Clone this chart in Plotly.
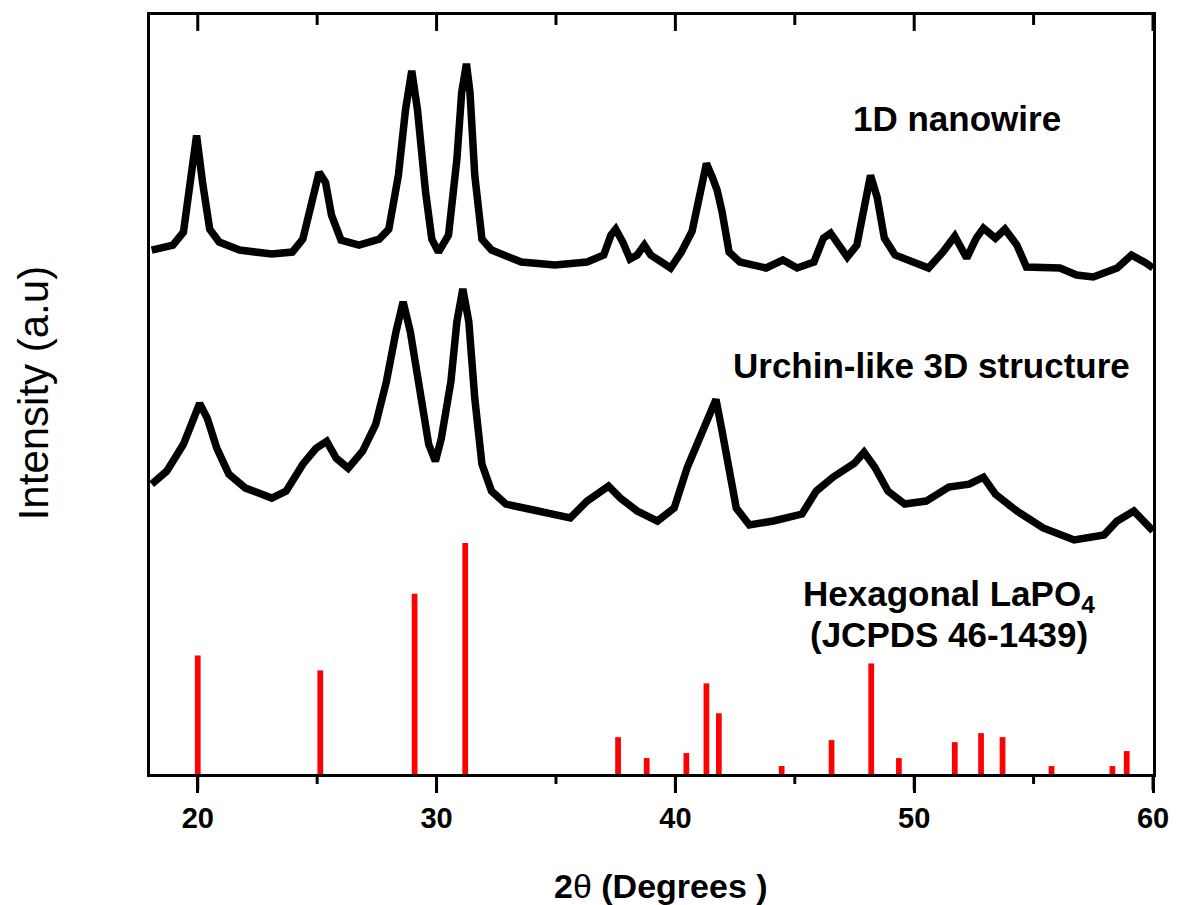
import plotly.graph_objects as go

# ---- data (2theta in degrees, intensity in arbitrary units) ----
nanowire_x = [18.07, 18.96, 19.4, 19.67, 19.95, 20.2, 20.5, 20.9, 21.75, 23.1, 23.96, 24.4, 24.8, 25.08,
              25.35, 25.6, 26.0, 26.75, 27.6, 28.0, 28.4, 28.7, 28.96, 29.2, 29.54, 29.8, 30.08, 30.5,
              30.85, 31.05, 31.25, 31.4, 31.6, 31.9, 32.3, 33.55, 34.96, 36.3, 37.0, 37.3, 37.5, 37.8,
              38.1, 38.4, 38.7, 38.97, 39.8, 40.25, 40.7, 41.05, 41.3, 41.55, 41.75, 41.95, 42.25, 42.7,
              43.8, 44.5, 45.1, 45.8, 46.2, 46.5, 46.9, 47.2, 47.6, 47.9, 48.17, 48.45, 48.75, 49.2,
              50.0, 50.6, 51.2, 51.7, 52.2, 52.6, 52.9, 53.4, 53.8, 54.3, 54.7, 56.1, 56.8, 57.5,
              58.5, 59.1, 59.7, 60.0]
nanowire_y = [526, 531, 544, 594, 641, 594, 547, 534, 526, 522, 524, 537, 577, 604,
              594, 561, 536, 531, 537, 547, 601, 667, 706, 667, 584, 537, 524, 541,
              617, 684, 713, 684, 601, 537, 526, 514, 511, 514, 521, 541, 547, 534,
              517, 521, 531, 521, 508, 524, 545, 589, 613, 599, 586, 565, 524, 514,
              508, 516, 508, 514, 538, 543, 531, 519, 531, 572, 601, 579, 538, 521,
              514, 508, 524, 540, 518, 538, 548, 538, 547, 531, 509, 508, 501, 499,
              508, 521, 513, 508]

urchin_x = [18.07, 18.7, 19.4, 19.8, 20.08, 20.4, 20.8, 21.3, 22.0, 23.1, 23.7, 24.4, 24.95, 25.4,
            25.8, 26.3, 26.9, 27.45, 27.9, 28.3, 28.6, 28.9, 29.3, 29.67, 29.95, 30.2, 30.6, 30.85,
            31.1, 31.35, 31.6, 31.9, 32.3, 32.9, 34.25, 35.6, 36.3, 37.2, 37.7, 38.4, 39.25, 39.95,
            40.5, 40.95, 41.4, 41.7, 41.95, 42.25, 42.55, 43.1, 44.1, 45.3, 45.9, 46.6, 47.5, 47.9,
            48.35, 48.9, 49.6, 50.5, 51.45, 52.3, 52.9, 53.4, 54.3, 55.4, 56.7, 57.95, 58.5, 59.2,
            59.7, 60.0]
urchin_y = [291, 304, 331, 357, 372, 357, 327, 301, 287, 277, 284, 311, 327, 334,
            317, 307, 324, 351, 394, 444, 474, 444, 384, 331, 314, 337, 394, 454,
            487, 454, 377, 311, 284, 271, 264, 257, 274, 289, 277, 264, 254, 267,
            308, 332, 359, 376, 345, 308, 267, 250, 254, 261, 284, 298, 312, 323,
            308, 284, 271, 274, 288, 291, 298, 281, 264, 247, 235, 240, 254, 264,
            250, 244]

ref_x = [20.0, 25.13, 29.08, 31.2, 37.6, 38.8, 40.46, 41.3, 41.82, 44.45, 46.54, 48.2, 49.36,
         51.7, 52.8, 53.7, 55.75, 58.3, 58.9]
ref_y = [119, 104, 181, 232, 37, 16, 21, 91, 61, 8, 34, 111, 16, 32, 41, 37, 8, 8, 23]

x_range = [18, 60]
y_range = [0, 762]
major_ticks = [20, 30, 40, 50, 60]
minor_ticks = [25, 35, 45, 55]

FONT = "Arial, Liberation Sans, sans-serif"
PLOT_H = 762  # plot-area height in px (for tick lengths in paper units)

fig = go.Figure()
fig.add_trace(go.Bar(x=ref_x, y=ref_y, width=0.24, marker=dict(color="#ff0000", line=dict(width=0)),
                     showlegend=False, hoverinfo="skip"))
fig.add_trace(go.Scatter(x=nanowire_x, y=nanowire_y, mode="lines",
                         line=dict(color="black", width=7.5), showlegend=False))
fig.add_trace(go.Scatter(x=urchin_x, y=urchin_y, mode="lines",
                         line=dict(color="black", width=7.5), showlegend=False))

fig.update_layout(
    width=1181, height=905,
    margin=dict(l=150, r=21, t=12, b=131),
    paper_bgcolor="white", plot_bgcolor="white",
    font=dict(family=FONT, color="black"),
    xaxis=dict(type="linear", range=x_range, tickmode="array", tickvals=major_ticks,
               ticks="outside", ticklen=16, tickwidth=3, tickcolor="black",
               showline=True, linewidth=3, linecolor="black", mirror=True,
               showgrid=False, zeroline=False,
               tickfont=dict(size=29, family=FONT, weight="bold")),
    yaxis=dict(range=y_range, showline=True, linewidth=3, linecolor="black", mirror=True,
               ticks="", showticklabels=False, showgrid=False, zeroline=False),
)


# tick marks: bottom ones point outward, top ones point into the plot
def to_paper(v):
    return (v - x_range[0]) / (x_range[1] - x_range[0])


for vals, length in [(major_ticks, 16), (minor_ticks, 10)]:
    for v in vals:
        xp = to_paper(v)
        fig.add_shape(type="line", xref="paper", yref="paper", x0=xp, x1=xp,
                      y0=0, y1=-length / PLOT_H, line=dict(color="black", width=3))
        fig.add_shape(type="line", xref="paper", yref="paper", x0=xp, x1=xp,
                      y0=1, y1=1 - length / PLOT_H, line=dict(color="black", width=3))

ann_font = dict(family=FONT, size=35, color="black")
fig.add_annotation(x=51.79, y=658, xref="x", yref="y", text="<b>1D nanowire</b>", showarrow=False,
                   font=ann_font, xanchor="center", yanchor="middle")
fig.add_annotation(x=50.71, y=410, xref="x", yref="y", text="<b>Urchin-like 3D structure</b>",
                   showarrow=False, font=ann_font, xanchor="center", yanchor="middle")
fig.add_annotation(x=51.46, y=179, xref="x", yref="y", text="<b>Hexagonal LaPO<sub>4</sub></b>",
                   showarrow=False, font=ann_font, xanchor="center", yanchor="middle")
fig.add_annotation(x=51.44, y=140, xref="x", yref="y", text="<b>(JCPDS 46-1439)</b>",
                   showarrow=False, font=ann_font, xanchor="center", yanchor="middle")

# axis titles
fig.add_annotation(x=(665 - 150) / 1010, y=-(886 - 774) / 762, xref="paper", yref="paper",
                   text="<b>2</b>θ<b> (Degrees )</b>", showarrow=False,
                   xanchor="center", yanchor="middle",
                   font=dict(family=FONT, size=34, color="black"))
fig.add_annotation(x=(33 - 150) / 1010, y=(774 - 392) / 762, xref="paper", yref="paper",
                   text="Intensity (a.u)", textangle=-90, showarrow=False,
                   xanchor="center", yanchor="middle",
                   font=dict(family=FONT, size=42, color="black"))

fig.write_html("out.html")
